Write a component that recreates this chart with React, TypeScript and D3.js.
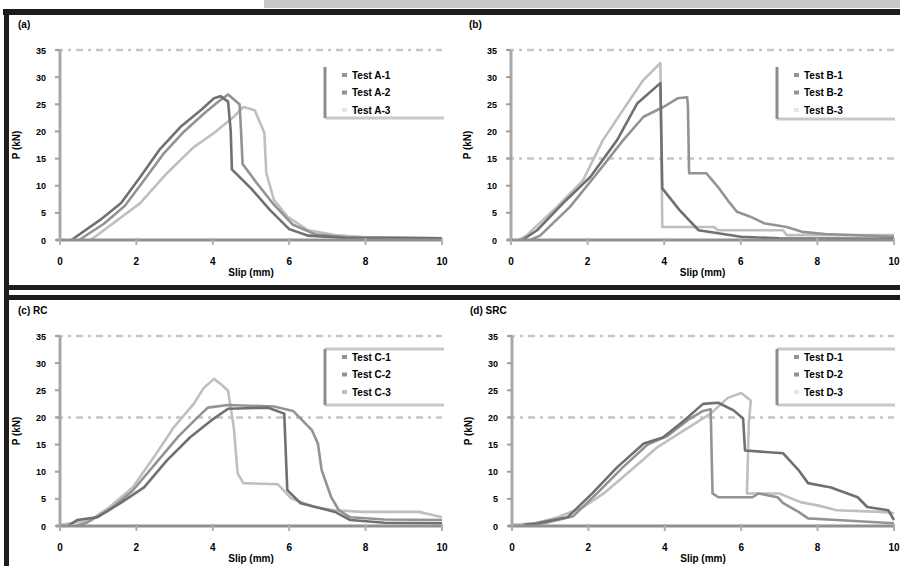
import React from "react";
import * as d3 from "d3";

type Pt = [number, number];

const X_TICKS = [0, 2, 4, 6, 8, 10];
const Y_TICKS = [0, 5, 10, 15, 20, 25, 30, 35];
const PANEL_LABELS = ["(a)", "(b)", "(c) RC", "(d) SRC"];
const X_LABEL = "Slip (mm)";
const Y_LABEL = "P (kN)";
const LEGEND_A = ["Test A-1", "Test A-2", "Test A-3"];
const LEGEND_B = ["Test B-1", "Test B-2", "Test B-3"];
const LEGEND_C = ["Test C-1", "Test C-2", "Test C-3"];
const LEGEND_D = ["Test D-1", "Test D-2", "Test D-3"];
const GRID_A = [35];
const GRID_B = [35, 15];
const GRID_C = [35, 20];
const GRID_D = [35, 20];

// Panel (a)
const A1: Pt[] = [[0.3, 0], [1.05, 3.7], [1.6, 6.8], [2.1, 11.6], [2.6, 16.6], [3.15, 20.8], [3.7, 24], [4.03, 26.1], [4.2, 26.5], [4.4, 25.5], [4.47, 20], [4.5, 13], [5, 9.5], [5.5, 5.5], [6, 2], [6.5, 0.8], [7.5, 0.4], [10, 0.3]];
const A2: Pt[] = [[0.5, 0], [1.15, 3], [1.7, 6.3], [2.2, 11], [2.7, 15.8], [3.25, 20], [3.8, 23.5], [4.15, 25.5], [4.4, 26.8], [4.7, 25], [4.74, 20], [4.78, 14], [5.15, 10.5], [5.6, 6.5], [6.1, 2.8], [6.7, 1], [7.5, 0.5], [10, 0.3]];
const A3: Pt[] = [[0.8, 0], [1.05, 1.3], [2.1, 6.8], [2.8, 12.3], [3.5, 17.1], [4.03, 19.7], [4.55, 22.7], [4.8, 24.5], [5.1, 23.9], [5.35, 19.7], [5.4, 12.3], [5.6, 7.4], [5.97, 4.2], [6.5, 1.8], [7.2, 0.9], [8, 0.5], [10, 0.3]];

// Panel (b)
const B1: Pt[] = [[0.3, 0], [0.68, 1.8], [1.36, 6.8], [2.07, 11.6], [2.77, 18.4], [3.3, 25.2], [3.9, 28.9], [3.95, 9.5], [4.4, 5.5], [4.9, 1.8], [6, 0.6], [7, 0.3], [10, 0.2]];
const B2: Pt[] = [[0.2, 0], [0.4, 0.8], [1.2, 6.1], [1.88, 11], [2.4, 18.4], [3.1, 25.8], [3.46, 29.5], [3.9, 32.6], [3.95, 2.4], [5.3, 2.4], [5.4, 1.8], [7.1, 1.8], [7.2, 0.9], [10, 0.9]];
const B3: Pt[] = [[0.5, 0], [0.76, 0.8], [1.54, 6.1], [2.25, 12.3], [2.93, 18.4], [3.46, 22.7], [3.98, 24.5], [4.35, 26.1], [4.6, 26.3], [4.62, 24.5], [4.65, 12.3], [5.1, 12.3], [5.4, 9.8], [5.65, 7.4], [5.9, 5.2], [6.25, 4.3], [6.6, 3.1], [7.2, 2.4], [7.6, 1.5], [8.2, 1.1], [10, 0.6]];

// Panel (c)
const C1: Pt[] = [[0, 0.2], [0.8, 1.1], [1.3, 3.5], [1.9, 7.1], [2.45, 12.6], [2.97, 18.1], [3.5, 22.5], [3.76, 25.4], [4.03, 27.1], [4.2, 26.2], [4.4, 24.9], [4.55, 18.1], [4.65, 9.7], [4.8, 7.9], [5.7, 7.7], [6.05, 5.1], [6.65, 3.5], [7.2, 2.9], [7.9, 2.6], [9.4, 2.6], [10, 1.6]];
const C2: Pt[] = [[0.2, 0], [0.45, 1.1], [0.97, 1.6], [1.58, 4.2], [2.2, 7.1], [2.8, 12.1], [3.4, 16.3], [3.95, 19.4], [4.4, 21.6], [5.45, 21.8], [5.87, 20.7], [5.95, 6.6], [6.3, 4.2], [7.2, 2.6], [7.6, 1.1], [8.5, 0.6], [10, 0.5]];
const C3: Pt[] = [[0.4, 0], [0.7, 0.6], [1.3, 3], [1.9, 6.5], [2.5, 11.5], [3.1, 16.5], [3.6, 20], [3.87, 21.8], [4.4, 22.3], [5.6, 22], [6.1, 21.2], [6.6, 17.6], [6.75, 15.2], [6.85, 10.3], [7.1, 5.3], [7.3, 2.9], [7.6, 1.6], [8.5, 1.2], [10, 1.1]];

// Panel (d)
const D1: Pt[] = [[0.3, 0.2], [0.65, 0.5], [1.45, 1.6], [2.1, 6], [2.75, 10.8], [3.45, 15.2], [3.95, 16.3], [4.5, 19.4], [5.0, 22.5], [5.4, 22.7], [5.8, 21.3], [6.05, 19.8], [6.1, 13.9], [7.1, 13.4], [7.5, 10.3], [7.75, 7.9], [8.35, 7.1], [9.05, 5.3], [9.3, 3.5], [9.85, 2.9], [10, 1.1]];
const D2: Pt[] = [[0.5, 0.2], [0.9, 0.6], [1.6, 1.8], [2.25, 6.2], [2.9, 10.8], [3.55, 15], [4.05, 16.5], [4.6, 19.5], [5.0, 21.2], [5.2, 21.5], [5.25, 6], [5.4, 5.3], [6.3, 5.3], [6.45, 6], [6.95, 5.3], [7.1, 4.2], [7.5, 2.6], [7.75, 1.4], [8.5, 1.1], [10, 0.5]];
const D3: Pt[] = [[0, 0.2], [0.6, 0.5], [1.2, 1.6], [1.87, 3.5], [2.4, 6], [2.9, 9], [3.4, 12], [3.8, 14.5], [4.5, 17.6], [5.2, 20.7], [5.65, 23.6], [6.0, 24.5], [6.25, 23.1], [6.2, 19], [6.15, 6], [6.35, 6], [7.0, 6], [7.55, 4.4], [8.0, 3.8], [8.5, 2.9], [9.65, 2.6], [10, 2.4]];

const DARK = "#707070";
const MID = "#939393";
const LIGHT = "#bfbfbf";
const FONT = "'Liberation Sans', Arial, sans-serif";

interface PanelProps {
  x0: number; x1: number; yTop: number; yBot: number;
  label: string;
  grid: number[];
  series: Pt[][];
  colors: string[];
  legend: string[];
  legendColors: string[];
  lx: number; ly: number; lw: number; lh: number;
  legendTop: boolean;
}

function Panel(p: PanelProps) {
  const x = d3.scaleLinear().domain([0, 10]).range([p.x0, p.x1]);
  const y = d3.scaleLinear().domain([0, 35]).range([p.yBot, p.yTop]);
  const line = d3.line<Pt>().x(d => x(d[0])).y(d => y(d[1]));
  return (
    <g>
      <text x={p.x0 - 42} y={p.yTop - 22} fontSize={10} fontWeight="bold" fontFamily={FONT}>{p.label}</text>
      {p.grid.map((g, i) => (
        <line key={i} x1={p.x0 - 4} x2={p.x1} y1={y(g)} y2={y(g)} stroke="#c6c6c6" strokeWidth={2.5} strokeDasharray="7 5 3 5" />
      ))}
      {p.series.map((s, i) => (
        <path key={i} d={line(s) || ""} fill="none" stroke={p.colors[i]} strokeWidth={2.6} strokeLinejoin="round" />
      ))}
      <line x1={x(0)} x2={x(0)} y1={p.yTop} y2={p.yBot} stroke="#a8a8a8" strokeWidth={3} />
      <line x1={p.x0 - 4} x2={p.x1} y1={p.yBot} y2={p.yBot} stroke="#909090" strokeWidth={3} />
      {X_TICKS.map(t => (
        <g key={t}>
          <line x1={x(t)} x2={x(t)} y1={p.yBot - 2} y2={p.yBot + 5} stroke="#b0b0b0" strokeWidth={2} />
          <text x={x(t)} y={p.yBot + 25} fontSize={10} fontWeight="bold" textAnchor="middle" fontFamily={FONT}>{t}</text>
        </g>
      ))}
      {Y_TICKS.map(t => (
        <g key={t}>
          <line x1={p.x0 - 5} x2={p.x0} y1={y(t)} y2={y(t)} stroke="#a0a0a0" strokeWidth={2} />
          <text x={p.x0 - 14} y={y(t) + 3.5} fontSize={9} fontWeight="bold" textAnchor="end" fontFamily={FONT}>{t}</text>
        </g>
      ))}
      <text x={(p.x0 + p.x1) / 2} y={p.yBot + 36} fontSize={10} fontWeight="bold" textAnchor="middle" fontFamily={FONT}>{X_LABEL}</text>
      <text transform={`translate(${p.x0 - 40},${(p.yTop + p.yBot) / 2}) rotate(-90)`} fontSize={10} fontWeight="bold" textAnchor="middle" fontFamily={FONT}>{Y_LABEL}</text>
      <g>
        <rect x={p.lx} y={p.ly} width={p.lw} height={p.lh} fill="white" stroke="none" />
        {p.legendTop && <line x1={p.lx} x2={p.lx + p.lw} y1={p.ly} y2={p.ly} stroke="#c8c8c8" strokeWidth={3} />}
        <line x1={p.lx} x2={p.lx + p.lw} y1={p.ly + p.lh} y2={p.ly + p.lh} stroke="#c8c8c8" strokeWidth={3} />
        <line x1={p.lx} x2={p.lx} y1={p.ly} y2={p.ly + p.lh} stroke="#8c8c8c" strokeWidth={3} />
        {p.legend.map((t, i) => {
          const yy = p.ly + 8 + i * 17.5;
          return (
            <g key={i}>
              <line x1={p.lx + 17} x2={p.lx + 22} y1={yy} y2={yy} stroke={p.legendColors[i]} strokeWidth={4} />
              <text x={p.lx + 27} y={yy + 3.5} fontSize={10} fontWeight="bold" fontFamily={FONT}>{t}</text>
            </g>
          );
        })}
      </g>
    </g>
  );
}

export default function App() {
  return (
    <svg width={900} height={566} style={{ position: "absolute", left: 0, top: 0, background: "white" }}>
      <rect x={0} y={0} width={900} height={566} fill="white" />
      <rect x={264} y={0} width={636} height={8} fill="#c8c8c8" />
      <rect x={3} y={9} width={897} height={6} fill="#1e1c1c" />
      <rect x={4} y={9} width={5} height={557} fill="#1e1c1c" />
      <rect x={4} y={285} width={896} height={5} fill="#1e1c1c" />
      <rect x={4} y={295} width={896} height={5} fill="#1e1c1c" />
      <Panel x0={60} x1={442} yTop={50} yBot={240} label={PANEL_LABELS[0]} grid={GRID_A}
        series={[A3, A2, A1]} colors={[LIGHT, MID, DARK]} legend={LEGEND_A} legendColors={[MID, MID, "#e6e6e6"]}
        lx={325} ly={67} lw={119} lh={51} legendTop={false} />
      <Panel x0={511} x1={894} yTop={50} yBot={240} label={PANEL_LABELS[1]} grid={GRID_B}
        series={[B2, B3, B1]} colors={[LIGHT, MID, DARK]} legend={LEGEND_B} legendColors={[MID, MID, "#e6e6e6"]}
        lx={777} ly={67} lw={118} lh={52} legendTop={false} />
      <Panel x0={60} x1={442} yTop={336} yBot={526} label={PANEL_LABELS[2]} grid={GRID_C}
        series={[C1, C3, C2]} colors={[LIGHT, MID, DARK]} legend={LEGEND_C} legendColors={[MID, MID, LIGHT]}
        lx={325} ly={349} lw={119} lh={56} legendTop={true} />
      <Panel x0={512} x1={894} yTop={336} yBot={526} label={PANEL_LABELS[3]} grid={GRID_D}
        series={[D3, D2, D1]} colors={[LIGHT, MID, DARK]} legend={LEGEND_D} legendColors={[MID, MID, "#e6e6e6"]}
        lx={777} ly={349} lw={118} lh={56} legendTop={true} />
    </svg>
  );
}
